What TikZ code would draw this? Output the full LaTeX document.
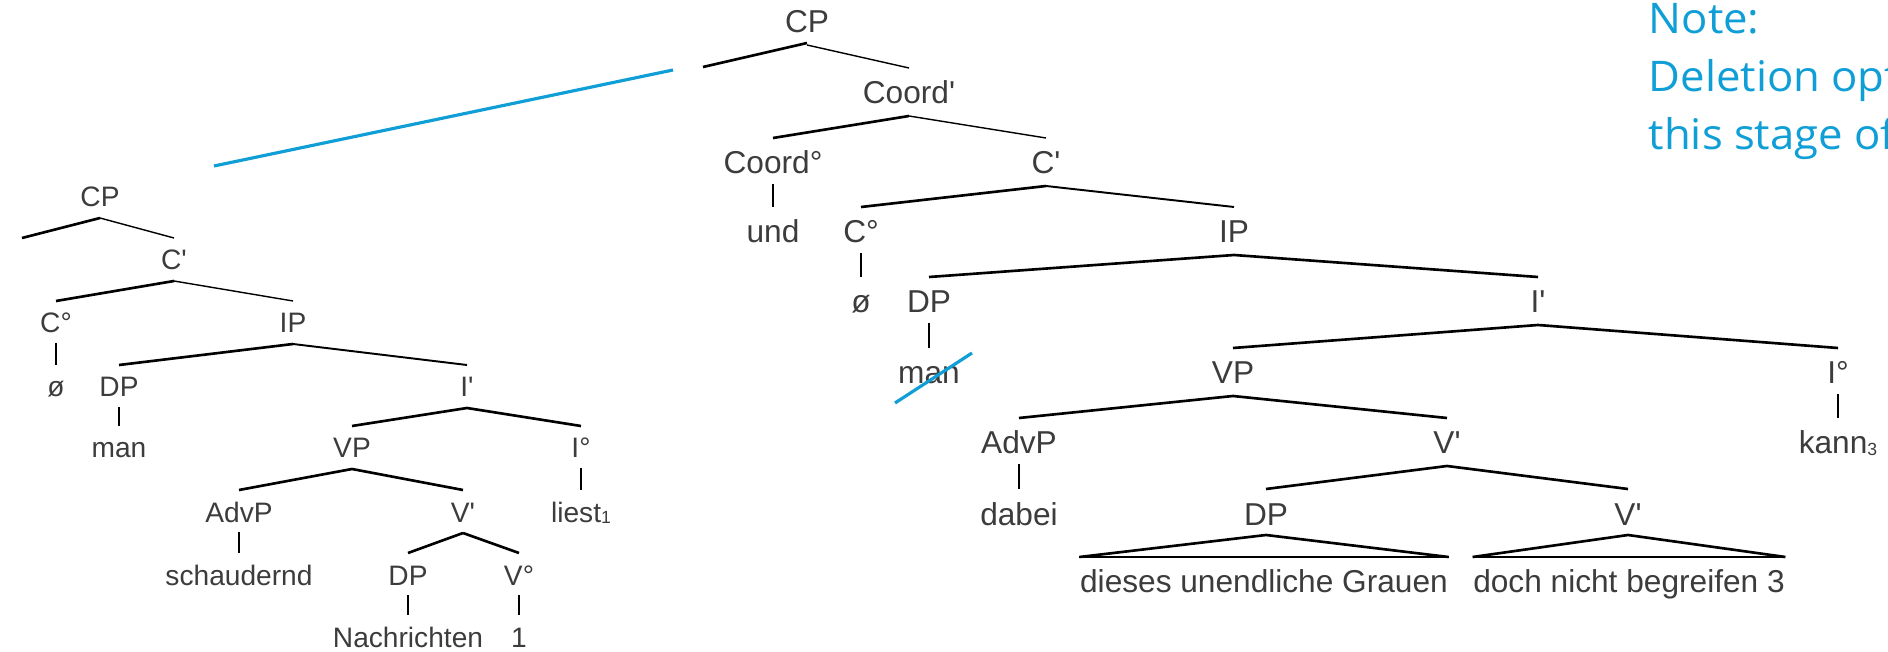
\documentclass[tikz,border=0pt]{standalone}
\usepackage{fontspec}
\usetikzlibrary{calc}
\newfontfamily\treefont{Liberation Sans}
\newfontfamily\notefont[FakeStretch=1.035]{Open Sans}
\definecolor{notblue}{HTML}{0F9ED5}
\definecolor{lblgray}{HTML}{3C3C3C}
\newcommand\smallsub[1]{\raisebox{-0.1ex}{\fontsize{5pt}{5pt}\selectfont #1}}
\tikzset{
  x=0.01cm, y=-0.01cm,
  lt/.style={font=\treefont\fontsize{8pt}{9pt}\selectfont, text=lblgray, inner sep=0pt, anchor=base},
  rt/.style={font=\treefont\fontsize{9pt}{10pt}\selectfont, text=lblgray, inner sep=0pt, anchor=base},
  thickbr/.style={line width=0.75pt, black},
  thinbr/.style={line width=0.4pt, black},
  unary/.style={line width=0.45pt, black},
  bluel/.style={line width=0.9pt, notblue},
  note/.style={font=\notefont\fontsize{12pt}{14pt}\selectfont, text=notblue, inner sep=0pt, anchor=base west},
}
% left-tree branch, right-tree branch, unary (vertical) lines
\newcommand\LB[3]{\draw[#3] ($(#1.base)+(0,11)$) -- ($(#2.base)+(0,-32)$);}
\newcommand\RB[3]{\draw[#3] ($(#1.base)+(0,12)$) -- ($(#2.base)+(0,-36)$);}
\newcommand\LU[2]{\draw[unary] ($(#1.base)+(0,10)$) -- ($(#1.base |- #2.base)+(0,-32)$);}
\newcommand\RU[2]{\draw[unary] ($(#1.base)+(0,10)$) -- ($(#1.base |- #2.base)+(0,-36)$);}
\begin{document}
\begin{tikzpicture}
\path[use as bounding box] (0,0) rectangle (1888,652);
\clip (0,0) rectangle (1888,652);

% ---------------- left tree ----------------
\node[lt] (lCP) at (100,207) {CP};
\coordinate (lCPL) at (22,238);
\node[lt] (lCb) at (174,270) {C'};
\node[lt] (lC0) at (56,333) {C°};
\node[lt] (lIP) at (293,333) {IP};
\node[lt] (lnull) at (56,397) {ø};
\node[lt] (lDP) at (119,397) {DP};
\node[lt] (lIb) at (467,397) {I'};
\node[lt] (lman) at (119,458) {man};
\node[lt] (lVP) at (352,458) {VP};
\node[lt] (lI0) at (581,458) {I°};
\node[lt] (lAdvP) at (239,522) {AdvP};
\node[lt] (lVb) at (463,522) {V'};
\node[lt] (lliest) at (581,522) {liest\smallsub{1}};
\node[lt] (lschau) at (239,585) {schaudernd};
\node[lt] (lDPb) at (408,585) {DP};
\node[lt] (lV0) at (519,585) {V°};
\node[lt] (lNach) at (408,647) {Nachrichten};
\node[lt] (lone) at (519,647) {1};

\draw[thickbr] ($(lCP.base)+(0,11)$) -- (lCPL);
\LB{lCP}{lCb}{thinbr}
\LB{lCb}{lC0}{thickbr}
\LB{lCb}{lIP}{thinbr}
\LU{lC0}{lnull}
\LB{lIP}{lDP}{thickbr}
\LB{lIP}{lIb}{line width=0.55pt}
\LU{lDP}{lman}
\LB{lIb}{lVP}{thickbr}
\LB{lIb}{lI0}{thickbr}
\LB{lVP}{lAdvP}{thickbr}
\LB{lVP}{lVb}{thickbr}
\LU{lI0}{lliest}
\LU{lAdvP}{lschau}
\LB{lVb}{lDPb}{thickbr}
\LB{lVb}{lV0}{thickbr}
\LU{lDPb}{lNach}
\LU{lV0}{lone}

% ---------------- right tree ----------------
\node[rt] (rCP) at (807,33) {CP};
\coordinate (rCPL) at (703,67);
\node[rt] (rCoB) at (909,104) {Coord'};
\node[rt] (rCo0) at (773,174) {Coord°};
\node[rt] (rCb) at (1046,174) {C'};
\node[rt] (rund) at (773,243) {und};
\node[rt] (rC0) at (861,243) {C°};
\node[rt] (rIP) at (1234,243) {IP};
\node[rt] (rnull) at (861,313) {ø};
\node[rt] (rDP) at (929,313) {DP};
\node[rt] (rIb) at (1538,313) {I'};
\node[rt] (rman) at (929,384) {man};
\node[rt] (rVP) at (1233,384) {VP};
\node[rt] (rI0) at (1838,384) {I°};
\node[rt] (rAdvP) at (1019,454) {AdvP};
\node[rt] (rVb) at (1447,454) {V'};
\node[rt] (rkann) at (1838,454) {kann\smallsub{3}};
\node[rt] (rdabei) at (1019,525) {dabei};
\node[rt] (rDPb) at (1266,525) {DP};
\node[rt] (rVc) at (1628,525) {V'};
\node[rt] (rdieses) at (1264,592) {dieses unendliche Grauen};
\node[rt] (rdoch) at (1629,592) {doch nicht begreifen 3};

\draw[thickbr] ($(rCP.base)+(0,10)$) -- (rCPL);
\RB{rCP}{rCoB}{thinbr}
\RB{rCoB}{rCo0}{thickbr}
\RB{rCoB}{rCb}{thinbr}
\RU{rCo0}{rund}
\RB{rCb}{rC0}{thickbr}
\RB{rCb}{rIP}{line width=0.55pt}
\RU{rC0}{rnull}
\RB{rIP}{rDP}{thickbr}
\RB{rIP}{rIb}{thickbr}
\RU{rDP}{rman}
\RB{rIb}{rVP}{thickbr}
\RB{rIb}{rI0}{thickbr}
\RU{rI0}{rkann}
\RB{rVP}{rAdvP}{thickbr}
\RB{rVP}{rVb}{thickbr}
\RU{rAdvP}{rdabei}
\RB{rVb}{rDPb}{thickbr}
\RB{rVb}{rVc}{thickbr}
% triangles
\draw[thickbr] ($(rdieses.base west)+(0,-35)$) -- ($(rDPb.base)+(0,10)$) -- ($(rdieses.base east)+(0,-35)$);
\draw[thinbr] ($(rdieses.base west)+(0,-35)$) -- ($(rdieses.base east)+(0,-35)$);
\draw[thickbr] ($(rdoch.base west)+(0,-35)$) -- ($(rVc.base)+(0,10)$) -- ($(rdoch.base east)+(0,-35)$);
\draw[thinbr] ($(rdoch.base west)+(0,-35)$) -- ($(rdoch.base east)+(0,-35)$);

% ---------------- blue marks ----------------
\coordinate (blA) at (214,166);
\coordinate (blB) at (673,70);
\draw[bluel] (blA) -- (blB);
\coordinate (stA) at (895,403);
\coordinate (stB) at (972,353);
\draw[bluel] (stA) -- (stB);

% ---------------- note (cut off at the right edge, as in the reference) ----------------
\node[note] (n1) at (1648,34) {Note:};
\node[note] (n2) at (1648,92) {Deletion opt};
\node[note] (n3) at (1648,150) {this stage of};
\end{tikzpicture}
\end{document}
